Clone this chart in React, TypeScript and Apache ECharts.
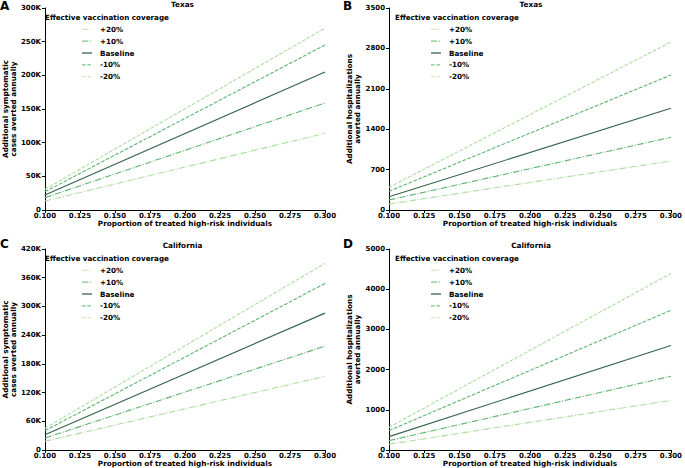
import React, { useEffect, useRef } from "react";
import * as echarts from "echarts";

const seriesNames = ["+20%", "+10%", "Baseline", "-10%", "-20%"];
const xProportion = [0.1, 0.3];

// Texas, symptomatic cases averted
const texasCases: Record<string, number[]> = {
  "+20%": [13400, 114000],
  "+10%": [18300, 159000],
  Baseline: [22300, 205000],
  "-10%": [27100, 245000],
  "-20%": [30700, 270000],
};
// Texas, hospitalizations averted
const texasHosp: Record<string, number[]> = {
  "+20%": [104, 849],
  "+10%": [173, 1260],
  Baseline: [231, 1762],
  "-10%": [324, 2339],
  "-20%": [393, 2911],
};
// California, symptomatic cases averted
const caCases: Record<string, number[]> = {
  "+20%": [18200, 154000],
  "+10%": [25000, 217000],
  Baseline: [32000, 286000],
  "-10%": [40400, 348000],
  "-20%": [45400, 390000],
};
// California, hospitalizations averted
const caHosp: Record<string, number[]> = {
  "+20%": [142, 1233],
  "+10%": [233, 1833],
  Baseline: [333, 2600],
  "-10%": [483, 3475],
  "-20%": [567, 4392],
};

const xTicks = { min: 0.1, max: 0.3, step: 0.025 };
const yScales = [
  { max: 300000, interval: 50000, k: true },
  { max: 3500, interval: 700, k: false },
  { max: 420000, interval: 60000, k: true },
  { max: 5000, interval: 1000, k: false },
];

const FONT = "DejaVu Sans";

const styles: Record<string, { color: string; type: any; width: number }> = {
  "+20%": { color: "#acdf9f", type: [6.4, 1.6, 1, 1.6], width: 1.1 },
  "+10%": { color: "#5db56f", type: [6.4, 1.6, 1, 1.6], width: 1.1 },
  Baseline: { color: "#35634a", type: "solid", width: 1.1 },
  "-10%": { color: "#5db56f", type: [3.7, 1.6], width: 1.1 },
  "-20%": { color: "#acdf9f", type: [3.7, 1.6], width: 1.1 },
};

export default function App() {
  const ref = useRef<HTMLDivElement>(null);
  useEffect(() => {
    if (!ref.current) return;
    const chart = echarts.init(ref.current, undefined, { renderer: "svg" });
    const grids = [
      { left: 40, top: 8, width: 285, height: 202 },
      { left: 389, top: 8, width: 284, height: 202 },
      { left: 40, top: 249, width: 285, height: 201 },
      { left: 389, top: 249, width: 284, height: 201 },
    ];
    const datasets = [texasCases, texasHosp, caCases, caHosp];
    const yNames = [
      "Additional symptomatic\ncases averted annually",
      "Additional hospitalizations\naverted annually",
      "Additional symptomatic\ncases averted annually",
      "Additional hospitalizations\naverted annually",
    ];
    const titles = ["Texas", "Texas", "California", "California"];
    const letters = ["A", "B", "C", "D"];

    const xAxis = grids.map((_, i) => ({
      type: "value",
      gridIndex: i,
      min: xTicks.min * 1000,
      max: xTicks.max * 1000,
      interval: xTicks.step * 1000,
      name: "Proportion of treated high-risk individuals",
      nameLocation: "middle",
      nameGap: 9,
      nameTextStyle: { fontFamily: FONT, fontWeight: "bold", fontSize: 7.3, color: "#000" },
      axisLine: { lineStyle: { color: "#000", width: 1 } },
      axisTick: { show: true, length: 3, lineStyle: { color: "#000" } },
      axisLabel: {
        fontFamily: FONT,
        fontWeight: "bold",
        fontSize: 7,
        color: "#000",
        margin: 2,
        formatter: (v: number) => (v / 1000).toFixed(3),
      },
      splitLine: { show: false },
    }));
    const yAxis = grids.map((_, i) => ({
      type: "value",
      gridIndex: i,
      min: 0,
      max: yScales[i].max,
      interval: yScales[i].interval,
      name: yNames[i],
      nameLocation: "middle",
      nameGap: 25,
      nameTextStyle: { fontFamily: FONT, fontWeight: "bold", fontSize: 7.3, color: "#000", lineHeight: 8 },
      axisLine: { show: true, lineStyle: { color: "#000", width: 1 } },
      axisTick: { show: true, length: 3, lineStyle: { color: "#000" } },
      axisLabel: {
        fontFamily: FONT,
        fontWeight: "bold",
        fontSize: 7,
        color: "#000",
        margin: 4,
        formatter: (v: number) => (yScales[i].k && v !== 0 ? v / 1000 + "K" : String(v)),
      },
      splitLine: { show: false },
    }));
    const series: any[] = [];
    datasets.forEach((ds, i) => {
      seriesNames.forEach((n) => {
        series.push({
          type: "line",
          name: n,
          xAxisIndex: i,
          yAxisIndex: i,
          symbol: "none",
          data: xProportion.map((x, j) => [x * 1000, ds[n][j]]),
          lineStyle: { color: styles[n].color, type: styles[n].type, width: styles[n].width },
          itemStyle: { color: styles[n].color },
        });
      });
    });

    const graphic: any[] = [];
    const letterY = [0, 0, 238, 238];
    grids.forEach((g, i) => {
      const isLeft = i % 2 === 0;
      graphic.push({
        type: "text",
        x: g.left + g.width / 2,
        y: g.top - 4,
        style: {
          text: titles[i],
          fontFamily: FONT,
          fontWeight: "bold",
          fontSize: 7.3,
          fill: "#000",
          align: "center",
          verticalAlign: "middle",
        },
      });
      graphic.push({
        type: "text",
        x: isLeft ? 0 : 343,
        y: letterY[i],
        style: {
          text: letters[i],
          fontFamily: FONT,
          fontWeight: "bold",
          fontSize: 12,
          fill: "#000",
          align: "left",
          verticalAlign: "top",
        },
      });
      graphic.push({
        type: "text",
        x: isLeft ? 45 : 395,
        y: g.top + 9.5,
        style: {
          text: "Effective vaccination coverage",
          fontFamily: FONT,
          fontWeight: "bold",
          fontSize: 7.2,
          fill: "#000",
          align: "left",
          verticalAlign: "middle",
        },
      });
      const sx = isLeft ? 82 : 431;
      seriesNames.forEach((n, k) => {
        const yy = g.top + 21.3 + k * 11.85;
        graphic.push({
          type: "line",
          shape: { x1: sx, y1: yy, x2: sx + 10, y2: yy },
          style: {
            stroke: styles[n].color,
            lineWidth: n === "Baseline" ? 1.6 : 1.1,
            lineDash: styles[n].type === "solid" ? null : styles[n].type,
            opacity: 0.8,
          },
        });
        graphic.push({
          type: "text",
          x: sx + 18,
          y: yy,
          style: {
            text: n,
            fontFamily: FONT,
            fontWeight: "bold",
            fontSize: 7.2,
            fill: "#000",
            align: "left",
            verticalAlign: "middle",
          },
        });
      });
    });

    chart.setOption({
      animation: false,
      grid: grids,
      xAxis,
      yAxis,
      series,
      graphic,
    });
    return () => chart.dispose();
  }, []);
  return (
    <div
      ref={ref}
      style={{ position: "absolute", left: 0, top: 0, width: 685, height: 468, background: "#fff" }}
    />
  );
}
